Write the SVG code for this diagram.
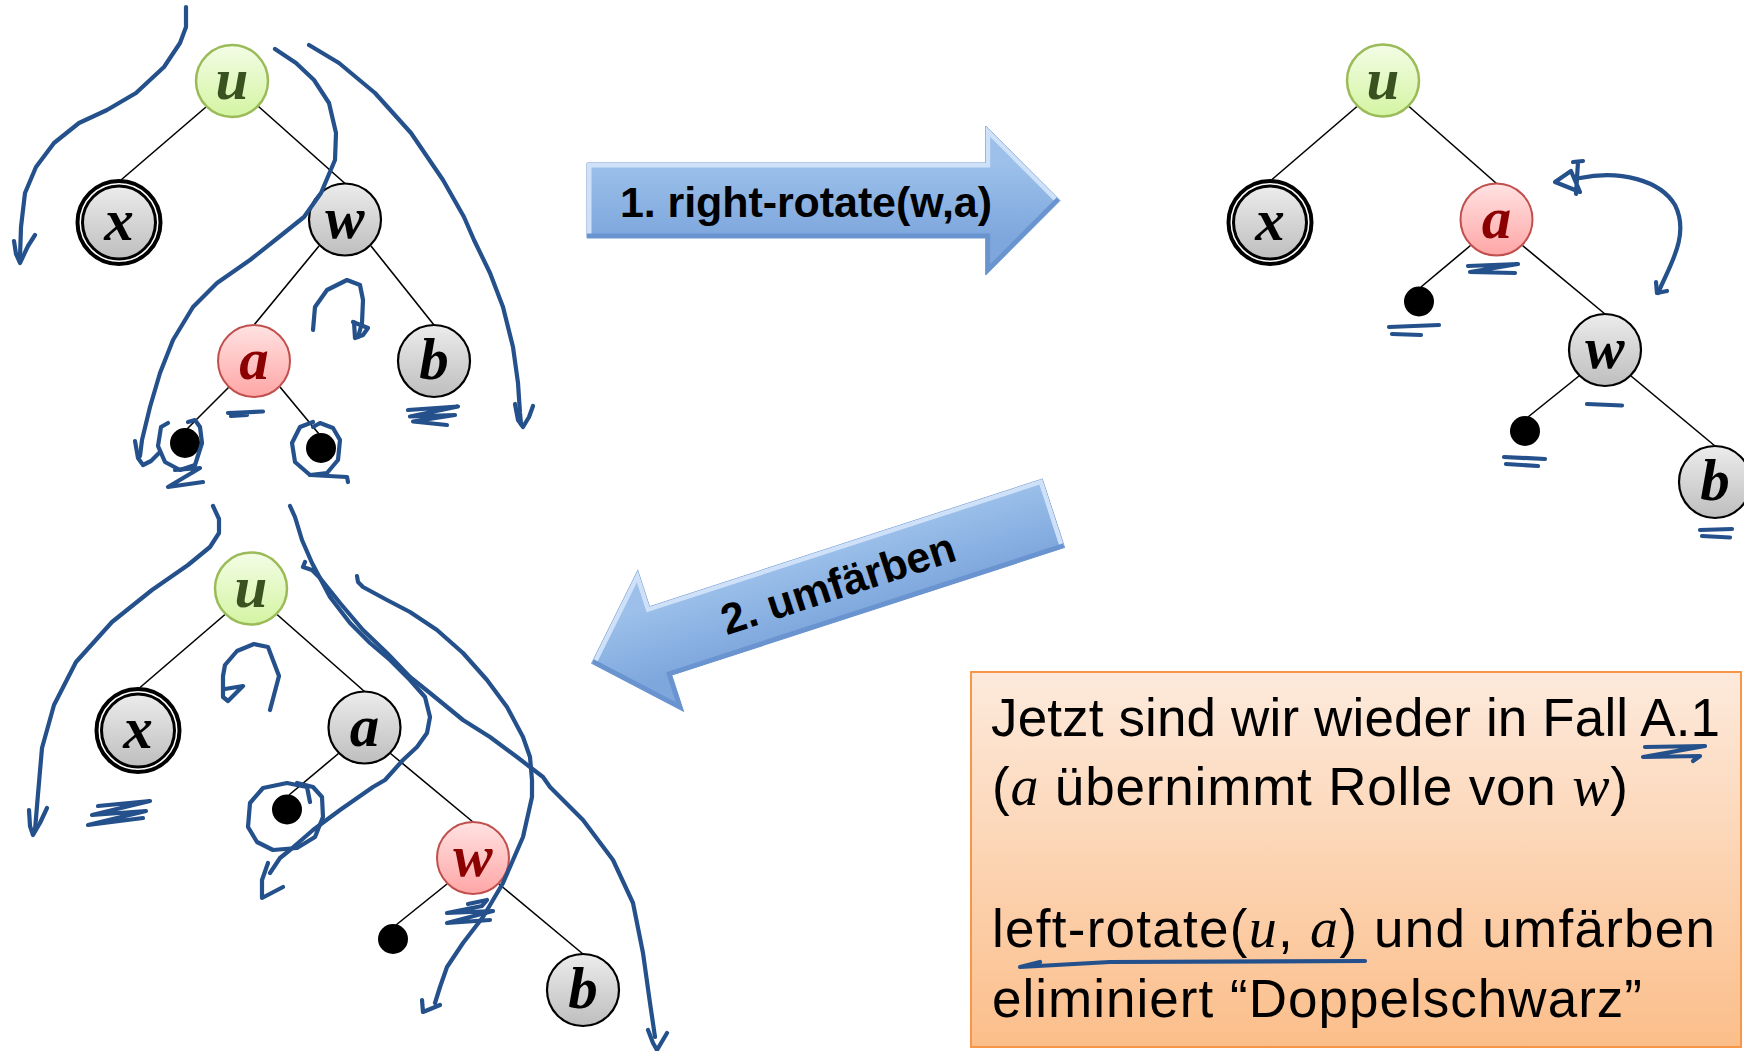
<svg xmlns="http://www.w3.org/2000/svg" width="1744" height="1051" viewBox="0 0 1744 1051">
  <defs>
    <linearGradient id="gGreen" x1="0" y1="0" x2="0" y2="1">
      <stop offset="0" stop-color="#f3fde6"/>
      <stop offset="1" stop-color="#d4f4a2"/>
    </linearGradient>
    <linearGradient id="gGray" x1="0" y1="0" x2="0" y2="1">
      <stop offset="0" stop-color="#ececec"/>
      <stop offset="1" stop-color="#bebebe"/>
    </linearGradient>
    <linearGradient id="gRed" x1="0" y1="0" x2="0" y2="1">
      <stop offset="0" stop-color="#ffe2e2"/>
      <stop offset="1" stop-color="#ffa6a6"/>
    </linearGradient>
    <linearGradient id="gBox" x1="0" y1="0" x2="0" y2="1">
      <stop offset="0" stop-color="#fdeadc"/>
      <stop offset="1" stop-color="#fbbe8a"/>
    </linearGradient>
    <linearGradient id="gArrow" gradientUnits="userSpaceOnUse" x1="0" y1="-37" x2="0" y2="37">
      <stop offset="0" stop-color="#9cc0ea"/>
      <stop offset="1" stop-color="#7ea7dd"/>
    </linearGradient>
    <clipPath id="clipA1">
      <polygon points="-473,-37.5 -74.3,-37.5 -74.3,-74.5 0,0 -74.3,74.5 -74.3,37.5 -473,37.5"/>
    </clipPath>
    <clipPath id="clipA2">
      <polygon points="0,0 72.5,-74 72.5,-36 485.5,-36 485.5,36 72.5,36 72.5,74"/>
    </clipPath>
    <style>
      .edge { stroke: #000; stroke-width: 1.6; fill: none; }
      .node text { font-family: "Liberation Serif", "DejaVu Serif", serif; font-weight: bold; font-style: italic; font-size: 59px; text-anchor: middle; }
      .green circle { fill: url(#gGreen); stroke: #9bbb59; stroke-width: 2.5; }
      .green text { fill: #3a5220; }
      .gray circle { fill: url(#gGray); stroke: #000; stroke-width: 2.2; }
      .gray text { fill: #000; }
      .gray .ring { fill: #fff; stroke: #000; stroke-width: 4; }
      .gray .inner { stroke-width: 3; }
      .red circle { fill: url(#gRed); stroke: #c0504d; stroke-width: 2; }
      .red text { fill: #8b0000; }
      .nil circle { fill: #000; stroke: none; }
      .arrow { fill: url(#gArrow); stroke: #6f97cf; stroke-width: 1; }
      .bevelHi { fill: none; stroke: #cfe1f8; stroke-width: 9; stroke-linejoin: miter; }
      .bevelLo { fill: none; stroke: #6a94cf; stroke-width: 9; stroke-linejoin: miter; }
      .atext { font-family: "Liberation Sans", Arial, sans-serif; font-weight: bold; font-size: 43px; fill: #000; text-anchor: middle; }
      .box { fill: url(#gBox); stroke: #f79646; stroke-width: 2; }
      .btext { font-family: "Liberation Sans", Arial, sans-serif; font-size: 53px; fill: #000; }
      .m { font-family: "Liberation Serif", "DejaVu Serif", serif; font-style: italic; font-size: 56px; }
      .ink { fill: none; stroke: #24508b; stroke-width: 4.2; stroke-linecap: round; stroke-linejoin: round; }
    </style>
  </defs>

  <rect width="1744" height="1051" fill="#fff"/>

  <!-- tree edges -->
  <g id="connectors">
    <!-- upper left tree -->
    <line class="edge" x1="206" y1="107" x2="121" y2="180"/>
    <line class="edge" x1="258" y1="106" x2="345" y2="183.5"/>
    <line class="edge" x1="319" y1="246" x2="254" y2="325"/>
    <line class="edge" x1="371" y1="246" x2="434" y2="325"/>
    <line class="edge" x1="229" y1="387" x2="187" y2="429"/>
    <line class="edge" x1="280" y1="387" x2="319" y2="434"/>
    <!-- upper right tree -->
    <line class="edge" x1="1357" y1="106.5" x2="1272" y2="179.5"/>
    <line class="edge" x1="1409" y1="106.5" x2="1496.5" y2="183.5"/>
    <line class="edge" x1="1470.5" y1="245.5" x2="1421" y2="287"/>
    <line class="edge" x1="1522.5" y1="245.5" x2="1605" y2="314"/>
    <line class="edge" x1="1579" y1="376" x2="1528" y2="417"/>
    <line class="edge" x1="1631" y1="376" x2="1715" y2="446"/>
    <!-- lower left tree -->
    <line class="edge" x1="225" y1="614.5" x2="140" y2="687.5"/>
    <line class="edge" x1="277" y1="614.5" x2="364.5" y2="691.5"/>
    <line class="edge" x1="338.5" y1="753.5" x2="289" y2="795"/>
    <line class="edge" x1="390.5" y1="753.5" x2="473" y2="822"/>
    <line class="edge" x1="447" y1="884" x2="396" y2="925"/>
    <line class="edge" x1="499" y1="884" x2="583" y2="954"/>
  </g>

  <!-- upper left tree nodes -->
  <g id="tl-u" class="node green" transform="translate(232,81)"><circle r="36"/><text y="18">u</text></g>
  <g id="tl-x" class="node gray" transform="translate(119,222.5)"><circle class="ring" r="41.5"/><circle class="inner" r="36.5"/><text y="17">x</text></g>
  <g id="tl-w" class="node gray" transform="translate(345,219.5)"><circle r="36"/><text y="18">w</text></g>
  <g id="tl-a" class="node red" transform="translate(254,361)"><circle r="36"/><text y="18">a</text></g>
  <g id="tl-b" class="node gray" transform="translate(434,361)"><circle r="36"/><text y="18">b</text></g>
  <g id="tl-nil1" class="node nil" transform="translate(185,443)"><circle r="15"/></g>
  <g id="tl-nil2" class="node nil" transform="translate(321,448)"><circle r="15"/></g>

  <!-- upper right tree nodes -->
  <g id="tr-u" class="node green" transform="translate(1383,80.5)"><circle r="36"/><text y="18">u</text></g>
  <g id="tr-x" class="node gray" transform="translate(1270,222.5)"><circle class="ring" r="41.5"/><circle class="inner" r="36.5"/><text y="17">x</text></g>
  <g id="tr-a" class="node red" transform="translate(1496.5,219.5)"><circle r="36"/><text y="18">a</text></g>
  <g id="tr-nil1" class="node nil" transform="translate(1419,301.5)"><circle r="15"/></g>
  <g id="tr-w" class="node gray" transform="translate(1605,350)"><circle r="36"/><text y="18">w</text></g>
  <g id="tr-nil2" class="node nil" transform="translate(1525,431)"><circle r="15"/></g>
  <g id="tr-b" class="node gray" transform="translate(1715,482)"><circle r="36"/><text y="18">b</text></g>

  <!-- lower left tree nodes -->
  <g id="bl-u" class="node green" transform="translate(251,588.5)"><circle r="36"/><text y="18">u</text></g>
  <g id="bl-x" class="node gray" transform="translate(138,730.5)"><circle class="ring" r="41.5"/><circle class="inner" r="36.5"/><text y="17">x</text></g>
  <g id="bl-a" class="node gray" transform="translate(364.5,727.5)"><circle r="36"/><text y="18">a</text></g>
  <g id="bl-nil1" class="node nil" transform="translate(287,809.5)"><circle r="15"/></g>
  <g id="bl-w" class="node red" transform="translate(473,858)"><circle r="36"/><text y="18">w</text></g>
  <g id="bl-nil2" class="node nil" transform="translate(393,939)"><circle r="15"/></g>
  <g id="bl-b" class="node gray" transform="translate(583,990)"><circle r="36"/><text y="18">b</text></g>

  <!-- step arrow 1 -->
  <g id="step1">
    <g transform="translate(1060,200.5)">
      <polygon class="arrow" points="-473,-37.5 -74.3,-37.5 -74.3,-74.5 0,0 -74.3,74.5 -74.3,37.5 -473,37.5"/>
      <g clip-path="url(#clipA1)">
        <polyline class="bevelHi" points="-473,37.5 -473,-37.5 -74.3,-37.5 -74.3,-74.5 0,0"/>
        <polyline class="bevelLo" points="0,0 -74.3,74.5 -74.3,37.5 -473,37.5"/>
      </g>
    </g>
    <text class="atext" x="806" y="217" textLength="372">1. right-rotate(w,a)</text>
  </g>

  <!-- step arrow 2 -->
  <g id="step2" transform="translate(591.7,663.3) rotate(-18)">
    <polygon class="arrow" points="0,0 72.5,-74 72.5,-36 485.5,-36 485.5,36 72.5,36 72.5,74"/>
    <g clip-path="url(#clipA2)">
      <polyline class="bevelHi" points="0,0 72.5,-74 72.5,-36 485.5,-36 485.5,36"/>
      <polyline class="bevelLo" points="485.5,36 72.5,36 72.5,74 0,0"/>
    </g>
    <text class="atext" x="259" y="15">2. umfärben</text>
  </g>

  <!-- explanation box -->
  <g id="note">
    <rect class="box" x="971" y="672" width="770" height="375"/>
    <text class="btext" x="991" y="736" textLength="729">Jetzt sind wir wieder in Fall A.1</text>
    <text class="btext" x="992" y="805" textLength="636">(<tspan class="m">a</tspan> übernimmt Rolle von <tspan class="m">w</tspan>)</text>
    <text class="btext" x="992" y="947" textLength="723">left-rotate(<tspan class="m">u</tspan>, <tspan class="m">a</tspan>) und umfärben</text>
    <text class="btext" x="992" y="1017" textLength="650">eliminiert “Doppelschwarz”</text>
  </g>

  <!-- handwritten pen annotations -->
  <g id="ink">
    <!-- upper left tree -->
    <path class="ink" d="M186,7 L186,27 L180,43 L164,67 L136,93 L107,110 L79,123 L54,143 L36,167 L25,193 L21,227 L20,257"/>
    <path class="ink" d="M14,241 L16,254 L20,263 L28,246 L35,235"/>
    <path class="ink" d="M275,49 L296,63 L314,80 L329,103 L336,133 L335,160 L321,193 L304,217 L279,237 L250,260 L217,283 L193,307 L173,340 L160,373 L150,407 L142,440 L140,456"/>
    <path class="ink" d="M135,441 L138,458 L143,465 L151,461 L160,452"/>
    <path class="ink" d="M309,45 L314,48 L339,63 L375,93 L411,133 L443,180 L464,217 L474,240 L490,273 L503,307 L513,347 L518,383 L520,413 L521,424"/>
    <path class="ink" d="M515,404 L518,420 L523,427 L529,417 L533,406"/>
    <path class="ink" d="M313,330 L315,307 L327,290 L347,280 L360,285 L363,300 L362,323 L358,337"/>
    <path class="ink" d="M353,322 L368,328 L363,335 L355,338 L354,322"/>
    <path class="ink" d="M228,413 L263,411.5 M231,416 L247,415"/>
    <path class="ink" d="M408,410 L458,406.5 L410,416.5 L455,415 L413,421.5 L447,425"/>
    <path class="ink" d="M168,423 L161,427 L158,446 L165,462 L180,470 L195,465 L202,443 L200,427 L195,420 L188,422"/>
    <path class="ink" d="M175,470 L200,468 L168,487 L203,482"/>
    <path class="ink" d="M313,422 L300,427 L292,443 L295,462 L310,475 L327,473 L338,460 L340,440 L333,428 L320,423 L313,427"/>
    <path class="ink" d="M310,475 L347,477 L348,482"/>

    <!-- upper right tree -->
    <path class="ink" d="M1580,178 C1620,170 1660,180 1675,205 C1690,235 1670,265 1658,293"/>
    <path class="ink" d="M1656,282 L1657,293 L1667,291"/>
    <path class="ink" d="M1573,162 L1583,161 M1578,162 L1576,194 M1555,182 L1571,171 L1580,192 Z"/>
    <path class="ink" d="M1468,266 L1518,264 L1470,272 L1515,273"/>
    <path class="ink" d="M1389,327 L1439,325 M1392,334 L1421,335"/>
    <path class="ink" d="M1587,404 L1622,405.5"/>
    <path class="ink" d="M1504,457 L1545,459 M1506,464 L1538,466"/>
    <path class="ink" d="M1700,530 L1732,529 M1702,536 L1730,537.5"/>

    <!-- lower left tree -->
    <path class="ink" d="M213,506 L219,519 L219,533 L210,547 L188,565 L152,590 L112,622 L76,662 L54,705 L42,748 L38,794 L35,830"/>
    <path class="ink" d="M29,810 L30,826 L33,835 L40,823 L47,808"/>
    <path class="ink" d="M290,506 L295,517 L302,540 L312,563 L330,597 L350,623 L370,643 L390,660 L410,680 L425,697 L430,717 L427,733 L417,747 L403,760 L385,780 L373,787 L340,810 L313,830 L290,850 L280,858 L270,873"/>
    <path class="ink" d="M268,863 L262,880 L262,898 L283,887"/>
    <path class="ink" d="M305,562 L303,567 L312,570 L320,578 L340,603 L363,630 L387,653 L410,677 L430,693 L463,720 L490,737 L517,757 L543,777 L550,787 L583,820 L613,860 L633,903 L643,953 L650,1003 L655,1037"/>
    <path class="ink" d="M648,1030 L653,1043 L657,1050 L667,1033"/>
    <path class="ink" d="M357,576 L358,582 L363,587 L387,600 L410,612 L437,630 L463,653 L487,680 L507,707 L523,737 L530,757 L532,780 L532,797 L523,837 L503,883 L483,917 L463,943 L447,967 L440,987 L435,1003"/>
    <path class="ink" d="M422,1000 L423,1012 L440,1005"/>
    <path class="ink" d="M270,710 L279,676 L268,647 L254,644 L237,651 L225,665 L223,676 L223,697 L228,701 L243,686 L225,689"/>
    <path class="ink" d="M310,802 L307,787 L287,783 L263,788 L250,803 L248,827 L257,842 L273,850 L297,848 L315,837 L323,817 L322,797 L313,787 L297,783"/>
    <path class="ink" d="M98,806 L150,801 L92,815 L146,811 L88,825 L143,818"/>
    <path class="ink" d="M468,904 L487,900 L482,906 L447,913 L493,911 L447,923 L490,920"/>

    <!-- note box -->
    <path class="ink" d="M1645,747 L1705,746 L1643,757 L1700,756 L1693,761"/>
    <path class="ink" d="M1365,961 L1110,962 L1020,967 L1040,962"/>
  </g>
</svg>
